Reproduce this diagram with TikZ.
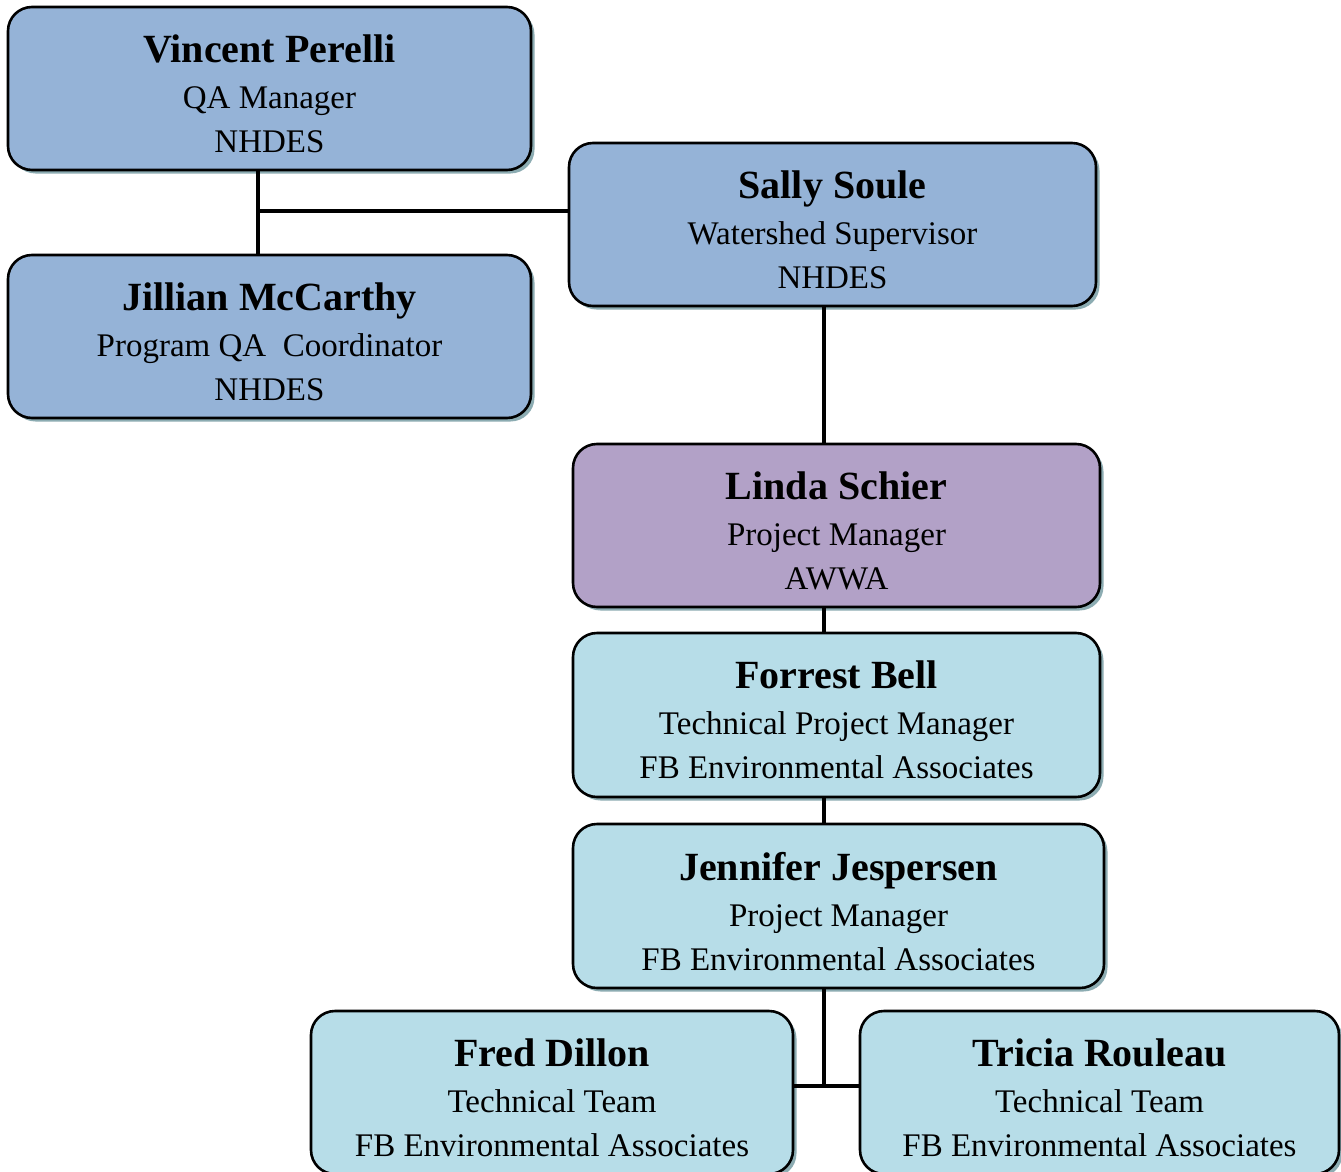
\documentclass[tikz,border=0pt]{standalone}
\usepackage{fontspec}
\setmainfont{Liberation Serif}
\usetikzlibrary{shadows}
\definecolor{bluefill}{RGB}{149,179,215}
\definecolor{purplefill}{RGB}{178,161,199}
\definecolor{cyanfill}{RGB}{183,221,232}
\definecolor{shadowc}{RGB}{140,172,178}
\tikzset{
 pbox/.style={draw=black, line width=2.6pt, rounded corners=24pt, fill=#1,
   general shadow={fill=shadowc, shadow xshift=3.5pt, shadow yshift=-3.5pt}, inner sep=0pt},
 txt/.style={align=center, font=\fontsize{33}{44}\selectfont, inner sep=0pt},
 conn/.style={line width=3.5pt}
}
\newcommand{\orgentry}[3]{{\fontsize{40}{44}\selectfont\bfseries\vphantom{Jl}#1}\\[2pt] #2\\ #3\vphantom{g}}
\begin{document}
\begin{tikzpicture}[x=1pt,y=-1pt]
\clip (0,0) rectangle (1341,1172);
\fill[white] (0,0) rectangle (1341,1172);
% connector coordinates
\coordinate (vj) at (258,211);
\coordinate (sp) at (824,0);
\coordinate (tj) at (824,1086);
% boxes
\node[pbox=bluefill, minimum width=523pt, minimum height=163pt] (v) at (269.5,88.5) {};
\node[pbox=bluefill, minimum width=523pt, minimum height=163pt] (j) at (269.5,336.5) {};
\node[pbox=bluefill, minimum width=527pt, minimum height=163pt] (s) at (832.5,224.5) {};
\node[pbox=purplefill, minimum width=527pt, minimum height=163pt] (l) at (836.5,525.5) {};
\node[pbox=cyanfill, minimum width=527pt, minimum height=164pt] (f) at (836.5,715) {};
\node[pbox=cyanfill, minimum width=531pt, minimum height=164pt] (je) at (838.5,906) {};
\node[pbox=cyanfill, minimum width=482pt, minimum height=163pt] (fd) at (552,1092.5) {};
\node[pbox=cyanfill, minimum width=479pt, minimum height=163pt] (tr) at (1099.5,1092.5) {};
% connectors
\draw[conn] (vj |- v.south) -- (vj |- j.north);
\draw[conn] (vj) -- (vj -| s.west);
\draw[conn] (sp |- s.south) -- (sp |- l.north);
\draw[conn] (sp |- l.south) -- (sp |- f.north);
\draw[conn] (sp |- f.south) -- (sp |- je.north);
\draw[conn] (sp |- je.south) -- (tj);
\draw[conn] (fd.east |- tj) -- (tr.west |- tj);
% texts
\node[txt] (vt) at ([yshift=-8.5pt]v.center) {\orgentry{Vincent Perelli}{QA Manager}{NHDES}};
\node[txt] (jt) at ([yshift=-8.5pt]j.center) {\orgentry{Jillian McCarthy}{Program QA\ \ Coordinator}{NHDES}};
\node[txt] (st) at ([yshift=-8.5pt]s.center) {\orgentry{Sally Soule}{Watershed Supervisor}{NHDES}};
\node[txt] (lt) at ([yshift=-8.5pt]l.center) {\orgentry{Linda Schier}{Project Manager}{AWWA}};
\node[txt] (ft) at ([yshift=-8.5pt]f.center) {\orgentry{Forrest Bell}{Technical Project Manager}{FB Environmental Associates}};
\node[txt] (jet) at ([yshift=-8.5pt]je.center) {\orgentry{Jennifer Jespersen}{Project Manager}{FB Environmental Associates}};
\node[txt] (fdt) at ([yshift=-8.5pt]fd.center) {\orgentry{Fred Dillon}{Technical Team}{FB Environmental Associates}};
\node[txt] (trt) at ([yshift=-8.5pt]tr.center) {\orgentry{Tricia Rouleau}{Technical Team}{FB Environmental Associates}};
\end{tikzpicture}
\end{document}
